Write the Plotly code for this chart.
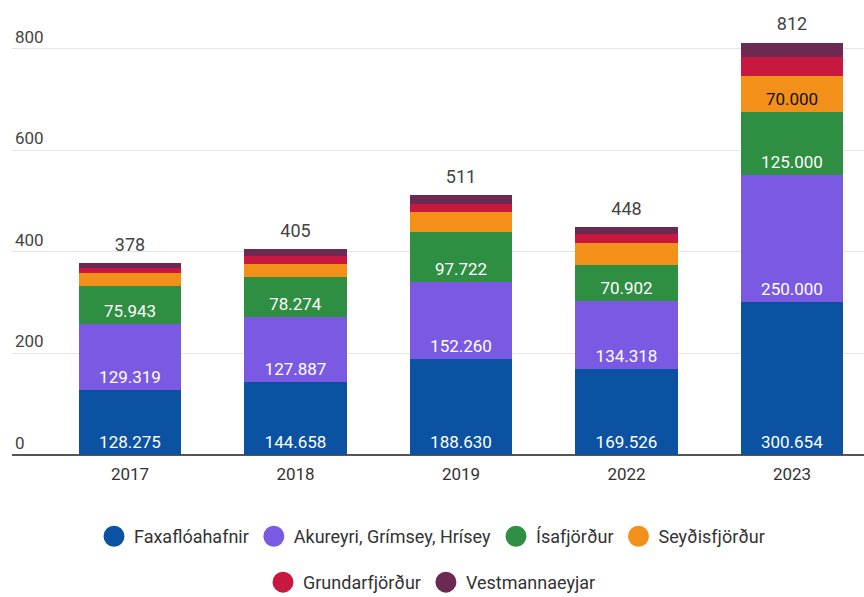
import plotly.graph_objects as go

years = ["2017", "2018", "2019", "2022", "2023"]
series_names = ["Faxaflóahafnir", "Akureyri, Grímsey, Hrísey", "Ísafjörður",
                "Seyðisfjörður", "Grundarfjörður", "Vestmannaeyjar"]
faxafloahafnir = [128.275, 144.658, 188.630, 169.526, 300.654]
akureyri = [129.319, 127.887, 152.260, 134.318, 250.000]
isafjordur = [75.943, 78.274, 97.722, 70.902, 125.000]
seydisfjordur = [24.0, 25.0, 40.0, 43.5, 70.000]
grundarfjordur = [11.0, 15.0, 16.0, 17.5, 38.0]
vestmannaeyjar = [9.5, 14.2, 16.4, 12.3, 28.3]
totals_labels = ["378", "405", "511", "448", "812"]

colors = ["#0b52a2", "#7b5ae3", "#2e8e41", "#f39019", "#c8183f", "#6c2a52"]
values = [faxafloahafnir, akureyri, isafjordur, seydisfjordur, grundarfjordur, vestmannaeyjar]
label_show = [
    [True] * 5,
    [True] * 5,
    [True] * 5,
    [False, False, False, False, True],
    [False] * 5,
    [False] * 5,
]
label_color = ["white", "white", "white", "#111111", "white", "white"]

fig = go.Figure()
for i, (name, vals) in enumerate(zip(series_names, values)):
    texts = [f"{v:.3f}" if label_show[i][j] else "" for j, v in enumerate(vals)]
    fig.add_trace(go.Bar(
        x=years, y=vals, name=name, marker_color=colors[i],
        marker_line_width=0,
        text=texts, textposition="inside", insidetextanchor="start",
        textangle=0,
        textfont=dict(family="Roboto", size=17, color=label_color[i]),
        showlegend=False, hoverinfo="skip",
    ))

totals = [sum(v[j] for v in values) for j in range(len(years))]
fig.add_trace(go.Scatter(
    x=years, y=[t + 15 for t in totals], mode="text", text=totals_labels,
    textposition="top center",
    textfont=dict(family="Roboto", size=18, color="#444444"),
    showlegend=False, hoverinfo="skip", cliponaxis=False,
))

for i, name in enumerate(series_names):
    fig.add_trace(go.Scatter(
        x=[None], y=[None], mode="markers", name=name,
        marker=dict(symbol="circle", size=16, color=colors[i],
                    line=dict(width=5, color=colors[i])),
        legend="legend" if i < 4 else "legend2",
    ))

fig.update_layout(
    width=864, height=597,
    margin=dict(l=12, r=0, t=8, b=142, autoexpand=False),
    paper_bgcolor="white", plot_bgcolor="white",
    barmode="stack", bargap=0.38,
    font=dict(family="Roboto", size=16, color="#444444"),
    xaxis=dict(
        range=[-0.713, 4.435], showgrid=False,
        tickfont=dict(family="Roboto", size=17, color="#333333"),
        ticks="outside", ticklen=4, tickcolor="rgba(0,0,0,0)",
        showline=False, zeroline=False,
    ),
    yaxis=dict(
        range=[0, 880], tickvals=[0, 200, 400, 600, 800],
        showgrid=True, gridcolor="#e4e4e4", gridwidth=1,
        ticklabelposition="inside top",
        tickfont=dict(family="Roboto", size=17, color="#444444"),
        zeroline=True, zerolinecolor="#555555", zerolinewidth=2,
        showline=False,
    ),
    legend=dict(
        orientation="h", x=0.5, xanchor="center", xref="container",
        y=0.1323, yanchor="top", yref="container",
        font=dict(family="Roboto", size=18, color="#333333"),
        itemsizing="trace", traceorder="normal",
    ),
    legend2=dict(
        orientation="h", x=0.5, xanchor="center", xref="container",
        y=0.0553, yanchor="top", yref="container",
        font=dict(family="Roboto", size=18, color="#333333"),
        itemsizing="trace", traceorder="normal",
    ),
)

fig.write_html("out.html", config={"displayModeBar": False},
               post_script="document.body.style.margin='0px';")
